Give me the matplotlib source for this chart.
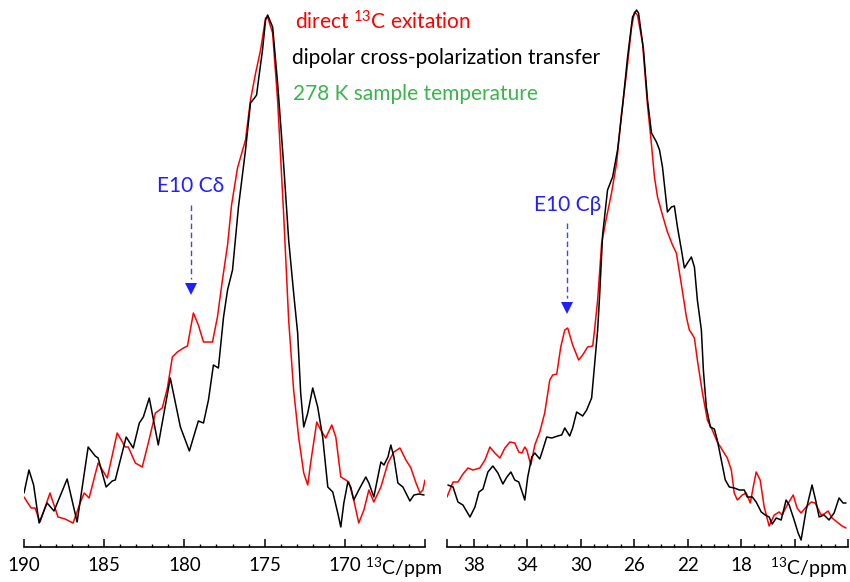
import matplotlib
matplotlib.use("Agg")
import matplotlib.pyplot as plt
from matplotlib.ticker import FixedLocator, MultipleLocator

# ---------------------------------------------------------------------------
# Spectra (chemical shift in ppm, intensity in arbitrary units)
# CO region: carbonyl / carboxyl carbons, 190-165 ppm
# ALI region: aliphatic carbons, 40-10 ppm
# dp = direct 13C excitation, cp = dipolar cross-polarization transfer
# ---------------------------------------------------------------------------
co_cp_ppm = [190.0, 189.69, 189.4, 189.06, 188.56, 188.13, 187.31, 186.69, 186.0, 185.56,
             185.38, 184.88, 184.5, 184.31, 183.63, 183.19, 182.81, 182.56, 182.19, 181.63,
             180.88, 180.25, 179.69, 179.13, 178.81, 178.5, 178.19, 177.88, 177.56, 177.31,
             177.0, 176.63, 176.19, 175.88, 175.63, 175.5, 175.38, 175.13, 174.94, 174.81,
             174.5, 174.19, 173.81, 173.5, 173.19, 172.94, 172.75, 172.56, 172.31, 172.0,
             171.69, 171.38, 171.06, 170.75, 170.44, 170.25, 170.06, 169.81, 169.63, 169.44,
             169.13, 168.69, 168.5, 168.19, 167.94, 167.75, 167.56, 167.31, 167.13, 166.94,
             166.69, 166.38, 166.19, 165.94, 165.69, 165.38, 165.06]
co_cp_int = [7.4, 12.0, 9.0, 1.4, 5.4, 3.8, 10.2, 1.6, 16.6, 14.8,
             14.4, 8.6, 9.8, 10.0, 18.6, 16.4, 21.4, 22.6, 26.4, 17.0,
             30.4, 20.6, 15.8, 21.8, 21.4, 26.0, 33.0, 32.4, 42.6, 48.0,
             52.0, 64.6, 76.0, 85.4, 86.4, 87.0, 90.0, 96.0, 102.0, 103.0,
             100.6, 89.4, 73.0, 58.0, 47.4, 39.4, 27.4, 20.6, 23.4, 28.4,
             24.6, 18.6, 8.6, 7.6, 3.4, 0.6, 5.4, 9.6, 8.6, 6.0,
             8.0, 10.6, 9.4, 6.6, 10.6, 13.6, 13.0, 14.6, 17.0, 14.6,
             9.4, 8.6, 7.4, 5.8, 7.0, 7.2, 7.0]

co_dp_ppm = [190.0, 189.56, 189.31, 189.0, 188.38, 187.88, 187.44, 186.94, 186.5, 186.25,
             185.94, 185.38, 184.81, 184.19, 183.69, 183.5, 183.06, 182.63, 182.25, 181.81,
             181.38, 181.06, 180.75, 180.44, 180.06, 179.81, 179.44, 179.13, 178.81, 178.25,
             177.94, 177.63, 177.31, 177.06, 176.69, 176.19, 175.88, 175.56, 175.25, 174.94,
             174.81, 174.5, 174.19, 173.81, 173.5, 173.19, 172.88, 172.56, 172.31, 172.13,
             171.75, 171.5, 171.19, 170.81, 170.56, 170.25, 169.94, 169.75, 169.44, 169.13,
             168.81, 168.5, 168.19, 167.75, 167.31, 166.94, 166.56, 166.19, 165.88, 165.56,
             165.31, 165.13, 165.0]
co_dp_int = [6.6, 4.4, 4.4, 1.6, 7.4, 2.6, 2.2, 1.4, 5.4, 7.4,
             6.4, 13.4, 10.4, 19.4, 16.6, 16.6, 13.4, 12.6, 17.4, 23.4,
             24.4, 28.4, 34.6, 35.6, 36.4, 36.8, 43.4, 41.0, 37.6, 37.6,
             42.6, 50.0, 57.0, 65.0, 72.4, 78.0, 86.0, 91.4, 96.0, 102.4,
             102.6, 99.4, 86.0, 63.0, 42.0, 28.0, 18.6, 11.4, 9.0, 13.4,
             21.6, 20.0, 18.4, 21.0, 18.6, 10.6, 10.0, 9.6, 6.0, 1.4,
             4.0, 8.0, 5.6, 8.6, 13.4, 15.6, 16.4, 14.0, 12.4, 9.4,
             7.4, 8.0, 10.0]

ali_cp_ppm = [39.93, 39.55, 39.18, 38.81, 38.28, 37.91, 37.61, 37.31, 36.94, 36.57,
              36.19, 35.82, 35.52, 35.22, 34.93, 34.63, 34.18, 33.96, 33.66, 33.43,
              33.06, 32.84, 32.54, 32.16, 31.72, 31.42, 31.19, 30.82, 30.6, 30.3,
              29.85, 29.55, 29.18, 28.96, 28.73, 28.58, 28.36, 27.99, 27.61, 27.24,
              26.87, 26.49, 26.12, 25.82, 25.67, 25.3, 25.0, 24.7, 24.33, 24.1,
              23.88, 23.51, 23.21, 22.99, 22.76, 22.46, 22.24, 22.01, 21.72, 21.49,
              21.27, 20.97, 20.82, 20.6, 20.3, 20.0, 19.78, 19.48, 19.18, 18.88,
              18.51, 18.13, 17.76, 17.54, 17.16, 16.87, 16.49, 16.19, 15.9, 15.67,
              15.37, 15.0, 14.63, 14.4, 14.03, 13.73, 13.51, 13.13, 12.69, 12.39,
              12.16, 11.79, 11.42, 11.04, 10.67, 10.37, 10.15]
ali_cp_int = [9.0, 8.6, 5.6, 5.0, 2.6, 4.6, 7.6, 8.2, 11.6, 12.8,
              11.4, 9.2, 10.6, 11.6, 10.0, 9.6, 6.0, 10.6, 14.6, 15.4,
              14.2, 16.0, 18.6, 18.4, 18.8, 19.0, 20.4, 18.8, 20.4, 23.6,
              22.8, 24.0, 26.4, 33.0, 40.0, 47.0, 59.0, 68.0, 70.6, 76.0,
              84.6, 94.6, 102.6, 104.0, 103.4, 96.0, 86.0, 79.4, 77.6, 76.0,
              72.6, 63.6, 64.6, 64.8, 60.6, 56.0, 52.4, 53.4, 54.6, 52.6,
              46.0, 40.0, 32.0, 24.6, 20.6, 20.2, 18.0, 14.0, 10.0, 8.6,
              8.4, 8.0, 8.0, 6.6, 6.6, 5.6, 3.6, 3.0, 2.6, 1.2,
              2.4, 2.0, 6.0, 5.0, 2.0, -0.6, -2.0, 4.0, 9.0, 5.6,
              2.6, 3.0, 2.0, 3.4, 6.4, 5.4, 5.4]

ali_dp_ppm = [40.0, 39.55, 39.18, 38.81, 38.43, 38.06, 37.54, 37.16, 36.79, 36.42,
              36.04, 35.67, 35.3, 34.93, 34.63, 34.4, 34.18, 34.03, 33.73, 33.43,
              33.06, 32.69, 32.31, 32.09, 31.79, 31.49, 31.19, 30.97, 30.6, 30.15,
              29.85, 29.48, 29.1, 28.96, 28.73, 28.43, 28.06, 27.69, 27.31, 26.94,
              26.57, 26.19, 25.97, 25.75, 25.37, 25.0, 24.7, 24.48, 24.25, 23.88,
              23.51, 23.13, 22.84, 22.46, 22.09, 21.87, 21.72, 21.49, 21.27, 20.9,
              20.52, 20.15, 19.78, 19.4, 19.03, 18.73, 18.51, 18.28, 17.91, 17.61,
              17.31, 17.09, 16.87, 16.57, 16.27, 15.9, 15.52, 15.15, 14.93, 14.55,
              14.1, 13.81, 13.51, 13.13, 12.76, 12.46, 12.01, 11.79, 11.49, 11.19,
              10.82, 10.45, 10.15]
ali_dp_int = [6.6, 9.6, 9.6, 11.2, 12.4, 12.0, 12.4, 14.0, 16.6, 15.4,
              14.4, 16.4, 17.6, 17.4, 15.6, 15.4, 16.6, 16.0, 13.0, 17.0,
              19.6, 23.4, 30.0, 31.0, 31.2, 36.6, 40.0, 40.4, 37.0, 34.0,
              35.0, 36.6, 36.8, 40.0, 46.0, 57.4, 62.6, 67.4, 73.4, 83.4,
              91.4, 100.6, 103.6, 103.0, 97.4, 85.0, 77.0, 70.6, 66.6, 63.0,
              59.6, 57.0, 55.4, 49.0, 42.6, 40.0, 39.4, 38.4, 34.0, 27.6,
              22.0, 20.0, 17.6, 16.0, 14.4, 12.0, 7.4, 6.0, 7.0, 7.4,
              5.4, 8.6, 11.6, 10.0, 4.6, 0.8, 3.0, 3.6, 3.0, 5.0,
              7.0, 4.4, 3.4, 4.6, 5.6, 5.4, 3.0, 3.2, 3.8, 2.4,
              1.6, 0.8, 0.4]

# Axis ticks
co_major = [190, 185, 180, 175, 170, 165]
co_labels = ["190", "185", "180", "175", "170", ""]
ali_major = [40, 38, 34, 30, 26, 22, 18, 14, 10]
ali_labels = ["", "38", "34", "30", "26", "22", "18", "", ""]

# Assignment markers: (label, shift, label height, arrow top, arrow tip)
co_mark = ("E10 C\u03b4", 179.6, 68.8, 65.0, 48.2)
ali_mark = ("E10 C\u03b2", 31.0, 65.0, 61.4, 44.4)

# ---------------------------------------------------------------------------
plt.rcParams["font.family"] = ["Lato", "DejaVu Sans"]
plt.rcParams["mathtext.fontset"] = "custom"
plt.rcParams["mathtext.rm"] = "Lato"
plt.rcParams["mathtext.it"] = "Lato:italic"
plt.rcParams["mathtext.bf"] = "Lato:bold"

RED = "#ff0000"
BLUE = "#2020ff"
GREEN = "#39b54a"

W, H = 850, 582
fig = plt.figure(figsize=(W / 100, H / 100), dpi=100)
ax1 = fig.add_axes([24 / W, 35 / H, 401 / W, 542 / H])
ax2 = fig.add_axes([447 / W, 35 / H, 401 / W, 542 / H])


def style_axis(ax, xlim, major, labels):
    ax.set_xlim(*xlim)
    ax.set_ylim(-3.4, 105)
    for side in ("left", "right", "top"):
        ax.spines[side].set_visible(False)
    ax.spines["bottom"].set_linewidth(1.2)
    ax.set_yticks([])
    ax.xaxis.set_major_locator(FixedLocator(major))
    ax.set_xticklabels(labels)
    ax.xaxis.set_minor_locator(MultipleLocator(1))
    ax.tick_params(axis="x", which="major", direction="in", length=5.5,
                   width=1.1, labelsize=13.5, pad=7)
    ax.tick_params(axis="x", which="minor", direction="in", length=2.5,
                   width=1.0)
    ax.patch.set_alpha(0)


def mark(ax, spec):
    label, x, ylab, ytop, ytip = spec
    ax.plot([x, x], [ytop, ytip + 2.0], color=BLUE, lw=1.0,
            linestyle=(0, (4, 2.5)), alpha=0.85)
    ax.plot([x], [ytip], marker="v", color=BLUE, markersize=9,
            markeredgewidth=0)
    ax.text(x, ylab, label, color=BLUE, fontsize=15, ha="center",
            va="center")


line_kw = dict(lw=1.1, solid_joinstyle="round", solid_capstyle="round")

ax1.plot(co_dp_ppm, co_dp_int, color=RED, **line_kw)
ax1.plot(co_cp_ppm, co_cp_int, color="black", **line_kw)
style_axis(ax1, (190, 165), co_major, co_labels)
mark(ax1, co_mark)

ax2.plot(ali_dp_ppm, ali_dp_int, color=RED, **line_kw)
ax2.plot(ali_cp_ppm, ali_cp_int, color="black", **line_kw)
style_axis(ax2, (40, 10), ali_major, ali_labels)
mark(ax2, ali_mark)

# Axis titles at the right end of each scale
fig.text(442 / W, 1 - 575 / H, r"$^{13}$C/ppm", fontsize=14, ha="right",
         va="baseline")
fig.text(847 / W, 1 - 575 / H, r"$^{13}$C/ppm", fontsize=14, ha="right",
         va="baseline")

# Legend-style annotation
fig.text(295 / W, 1 - 29 / H, r"direct $^{13}$C exitation", color=RED,
         fontsize=15, va="baseline")
fig.text(292 / W, 1 - 64 / H, "dipolar cross-polarization transfer",
         color="black", fontsize=15, va="baseline")
fig.text(293 / W, 1 - 100 / H, "278 K sample temperature", color=GREEN,
         fontsize=15, va="baseline")

fig.savefig("out.png", dpi=100)
